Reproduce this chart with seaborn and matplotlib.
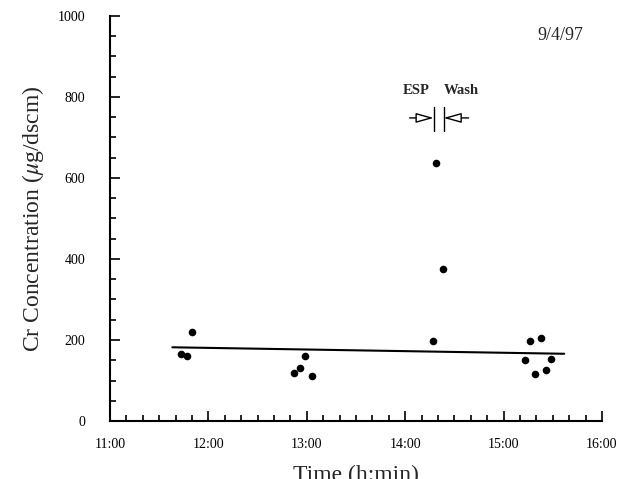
import numpy as np
import pandas as pd
import matplotlib
matplotlib.use("Agg")
import matplotlib.pyplot as plt
import seaborn as sns
from matplotlib.ticker import MultipleLocator, FixedLocator

# sample times (h:min) and Cr concentrations (ug/dscm)
times = ["11:43", "11:47", "11:50", "12:52", "12:56", "12:59", "13:03",
         "14:17", "14:19", "14:23",
         "15:13", "15:16", "15:19", "15:23", "15:26", "15:29"]
conc = [165, 160, 220, 118, 130, 160, 112,
        198, 637, 375,
        150, 198, 117, 205, 127, 153]

# trend line end points
trend_times = ["11:38", "15:37"]
trend_conc = [182, 166]

# ESP / Wash marker time
switch_time = "14:20"

x_ticks = ["11:00", "12:00", "13:00", "14:00", "15:00", "16:00"]


def to_hours(t):
    h, m = t.split(":")
    return int(h) + int(m) / 60.0


df = pd.DataFrame({"t": [to_hours(t) for t in times], "conc": conc})
trend = pd.DataFrame({"t": [to_hours(t) for t in trend_times], "conc": trend_conc})

sns.set_style("ticks")
plt.rcParams["font.family"] = ["Liberation Serif", "DejaVu Serif"]
plt.rcParams["mathtext.fontset"] = "stix"

fig = plt.figure(figsize=(6.18, 4.79), dpi=100)
ax = fig.add_axes([0.178, 0.121, 0.796, 0.846])

sns.lineplot(data=trend, x="t", y="conc", ax=ax, color="black", lw=1.5)
sns.scatterplot(data=df, x="t", y="conc", ax=ax, color="black", s=30,
                edgecolor="black", linewidth=0, zorder=3)

ax.set_xlim(11, 16)
ax.set_ylim(0, 1000)
ax.xaxis.set_major_locator(FixedLocator([to_hours(t) for t in x_ticks]))
ax.set_xticklabels(x_ticks)
ax.xaxis.set_minor_locator(MultipleLocator(1 / 6))
ax.yaxis.set_major_locator(MultipleLocator(200))
ax.yaxis.set_minor_locator(MultipleLocator(50))

ax.tick_params(which="both", direction="in", width=1.2, colors="black")
ax.tick_params(axis="x", which="major", length=7, pad=12, labelsize=10)
ax.tick_params(axis="x", which="minor", length=4)
ax.tick_params(axis="y", which="major", length=7, pad=18, labelsize=10)
ax.tick_params(axis="y", which="minor", length=4)

for s in ["top", "right"]:
    ax.spines[s].set_visible(False)
for s in ["left", "bottom"]:
    ax.spines[s].set_linewidth(1.5)
    ax.spines[s].set_color("black")

ax.set_xlabel("Time (h:min)", fontsize=17, labelpad=10)
ax.set_ylabel(r"Cr Concentration ($\mu$g/dscm)", fontsize=17, labelpad=8)

# ESP / Wash annotation
xs = to_hours(switch_time) + 0.007
gap = 0.05
ax.plot([xs - gap, xs - gap], [716, 775], color="black", lw=1)
ax.plot([xs + gap, xs + gap], [716, 775], color="black", lw=1)
arrow = dict(arrowstyle="-|>,head_length=0.9,head_width=0.25", mutation_scale=12,
             color="black", fc="white", lw=1, shrinkA=0, shrinkB=0)
ax.annotate("", xy=(xs - gap, 748), xytext=(xs - 0.295, 748), arrowprops=arrow)
ax.annotate("", xy=(xs + gap, 748), xytext=(xs + 0.305, 748), arrowprops=arrow)
ax.text(xs - 0.225, 815, "ESP", ha="center", va="center", fontsize=10.5, fontweight="bold")
ax.text(xs + 0.235, 815, "Wash", ha="center", va="center", fontsize=10.5, fontweight="bold")

ax.text(15.81, 952, "9/4/97", ha="right", va="center", fontsize=13)

fig.savefig("out.png", dpi=100)
